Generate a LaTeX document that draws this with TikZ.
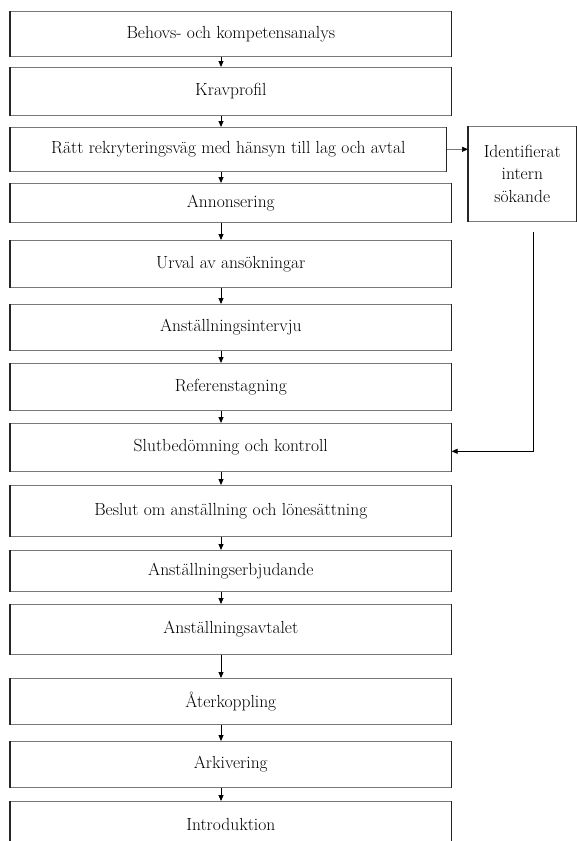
\documentclass[tikz,border=0pt]{standalone}
\usepackage{tikz}
\usetikzlibrary{arrows.meta}
\tikzstyle{chart} = [x = 1pt, y = -1pt]
\definecolor{lineColor}{RGB}{120,120,120}
\tikzstyle{stepStyle} = [draw=lineColor, line width=.6pt, anchor=north west, inner sep=0pt, align=center, font=\fontsize{17.5}{22.5}\selectfont]
\tikzstyle{sideLine} = [draw=black!85, line width=1.1pt]
\tikzstyle{flowArrow} = [draw=black, line width=.9pt, -{Triangle[length=6pt, width=5pt, color=black]}]
\newcommand{\stepBox}[6]{
  \pgfmathsetmacro{\boxWidth}{#4 - #2}
  \pgfmathsetmacro{\boxHeight}{#5 - #3}
  \node [stepStyle, minimum width=\boxWidth pt, minimum height=\boxHeight pt] (#1) at (#2, #3) {#6};
  \draw [sideLine] (#1.north west) -- (#1.south west) (#1.north east) -- (#1.south east);
}
\newcommand{\stepArrow}[2]{\draw [flowArrow] (#1.south -| arrowAxis) -- (#2.north -| arrowAxis);}

\begin{document}
\begin{tikzpicture}[chart]
  \useasboundingbox (0,0) rectangle (577,841);
  \coordinate (arrowAxis) at (221,0);

  \stepBox{behov}{10}{11}{451}{56}{Behovs- och kompetensanalys}
  \stepBox{krav}{10}{67}{451}{115}{Kravprofil}
  \stepBox{vag}{10}{127}{446}{171}{Rätt rekryteringsväg med hänsyn till lag och avtal}
  \stepBox{annons}{10}{183}{451}{222}{Annonsering}
  \stepBox{urval}{10}{240}{451}{287}{Urval av ansökningar}
  \stepBox{intervju}{10}{304}{451}{350}{Anställningsintervju}
  \stepBox{referens}{10}{363}{451}{410}{Referenstagning}
  \stepBox{slut}{10}{423}{451}{471}{Slutbedömning och kontroll}
  \stepBox{beslut}{10}{485}{451}{536}{Beslut om anställning och lönesättning}
  \stepBox{erbjud}{10}{550}{451}{591}{Anställningserbjudande}
  \stepBox{avtal}{10}{604}{451}{654}{Anställningsavtalet}
  \stepBox{ater}{10}{678}{451}{724}{Återkoppling}
  \stepBox{arkiv}{10}{741}{451}{787}{Arkivering}
  \stepBox{intro}{10}{801}{451}{847}{Introduktion}
  \stepBox{intern}{468}{126}{576}{221}{Identifierat\\intern\\sökande}

  \stepArrow{behov}{krav}
  \stepArrow{krav}{vag}
  \stepArrow{vag}{annons}
  \stepArrow{annons}{urval}
  \stepArrow{urval}{intervju}
  \stepArrow{intervju}{referens}
  \stepArrow{referens}{slut}
  \stepArrow{slut}{beslut}
  \stepArrow{beslut}{erbjud}
  \stepArrow{erbjud}{avtal}
  \stepArrow{avtal}{ater}
  \stepArrow{ater}{arkiv}
  \stepArrow{arkiv}{intro}

  % internal applicant branch
  \draw [flowArrow, draw=lineColor, line width=.5pt] (vag.east) -- (vag.east -| intern.west);
  \coordinate (returnStart) at (533,232);
  \draw [flowArrow] (returnStart) |- ([yshift=-4pt]slut.east);
\end{tikzpicture}
\end{document}
